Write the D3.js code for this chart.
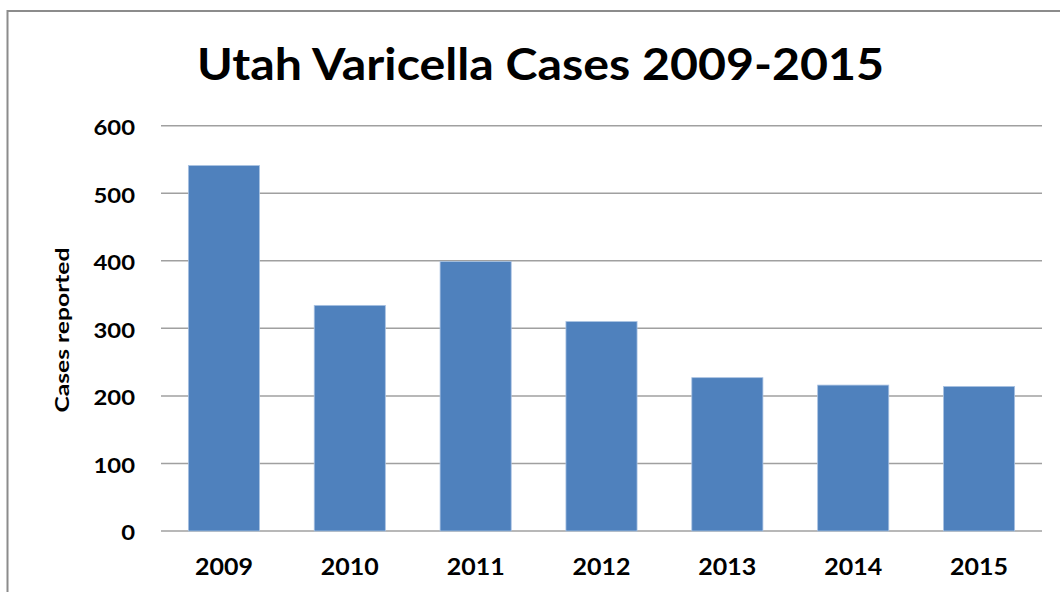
<!DOCTYPE html>
<html>
<head>
<script src="https://d3js.org/d3.v7.min.js"></script>
<style>
body { margin: 0; background: #fff; }
text { font-family: Lato, "Open Sans", sans-serif; font-weight: bold; fill: #000; }
</style>
</head>
<body>
<svg width="1060" height="592"></svg>
<script>
var years = ["2009", "2010", "2011", "2012", "2013", "2014", "2015"];
var cases = [541, 334, 399, 310, 227, 216, 214];
var yTicks = [0, 100, 200, 300, 400, 500, 600];

var svg = d3.select("svg");

// outer chart frame
svg.append("rect")
    .attr("x", 7.5).attr("y", 11)
    .attr("width", 1070).attr("height", 600)
    .attr("fill", "none")
    .attr("stroke", "#8c8c8c")
    .attr("stroke-width", 2);

var x = d3.scaleBand().domain(years).range([161, 1042]).paddingInner(0.435).paddingOuter(0.2175);
var y = d3.scaleLinear().domain([0, 600]).range([531, 125.7]);

// gridlines
svg.selectAll("line.grid").data(yTicks).enter().append("line")
    .attr("class", "grid")
    .attr("x1", 161).attr("x2", 1042)
    .attr("y1", function(d) { return y(d); })
    .attr("y2", function(d) { return y(d); })
    .attr("stroke", "#a0a0a0")
    .attr("stroke-width", 1.5);

svg.selectAll("rect.bar").data(cases).enter().append("rect")
    .attr("class", "bar")
    .attr("x", function(d, i) { return x(years[i]); })
    .attr("y", function(d) { return y(d); })
    .attr("width", x.bandwidth())
    .attr("height", function(d) { return y(0) - y(d); })
    .attr("fill", "#4f81bd")
    .attr("stroke", "#a9c2e2")
    .attr("stroke-width", 0.8);

// the source picture is a bit wider than the fonts we have, so stretch text
function widen(sel, k) {
    sel.each(function() {
        var w = this.getComputedTextLength();
        d3.select(this).attr("textLength", w * k).attr("lengthAdjust", "spacingAndGlyphs");
    });
}

var yaxis = svg.append("g").attr("transform", "translate(135,0)")
    .call(d3.axisLeft(y).tickValues(yTicks).tickSize(0).tickPadding(0));
yaxis.select(".domain").remove();
yaxis.selectAll("text").style("font-size", "21px").style("font-family", null).attr("dy", "0.42em");

var xaxis = svg.append("g").attr("transform", "translate(0,575)")
    .call(d3.axisBottom(x).tickSize(0).tickPadding(0));
xaxis.select(".domain").remove();
xaxis.selectAll("text").style("font-size", "22px").style("font-family", null).attr("dy", "0");

var k = 58 / xaxis.select("text").node().getComputedTextLength();
widen(xaxis.selectAll("text"), k);
widen(yaxis.selectAll("text"), k);

var ylab = svg.append("text").text("Cases reported")
    .attr("transform", "translate(69,330) rotate(-90)")
    .attr("text-anchor", "middle")
    .style("font-size", "19px");
widen(ylab, 165 / ylab.node().getComputedTextLength());

var title = svg.append("text").text("Utah Varicella Cases 2009-2015")
    .attr("x", 540.5).attr("y", 80)
    .attr("text-anchor", "middle")
    .style("font-size", "44px");
widen(title, 687 / title.node().getComputedTextLength());
</script>
</body>
</html>
